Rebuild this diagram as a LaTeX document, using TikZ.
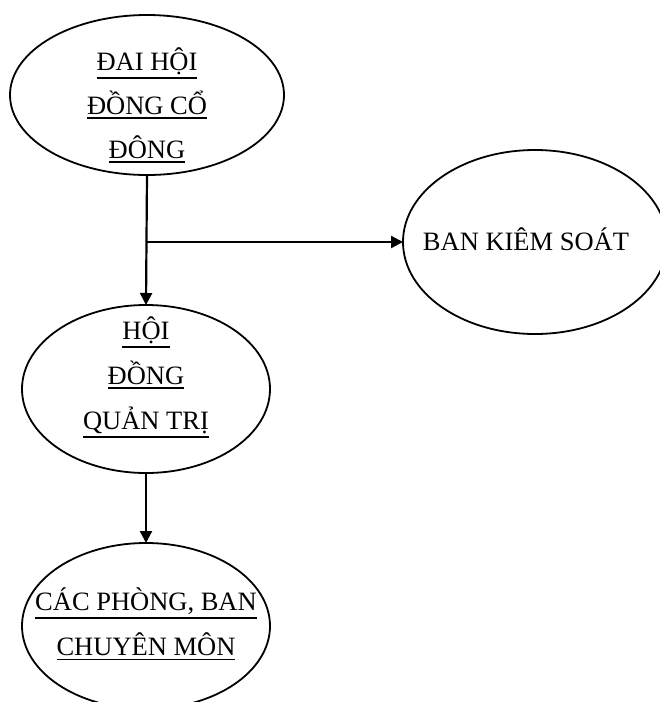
\documentclass[tikz,border=0pt]{standalone}
\usepackage{fontspec}
\setmainfont{Liberation Serif}
\usetikzlibrary{shapes.geometric,arrows.meta}

% underlined line of text with a slightly heavier rule
\newcommand{\ul}[1]{\vtop{\hbox{#1}\kern2.6pt\hrule height 1.6pt}}

\tikzset{
  oval/.style={ellipse, draw, line width=1.8pt, inner sep=0pt, outer sep=0pt},
  label txt/.style={align=center, inner sep=0pt,
    font=\fontsize{26.5pt}{44pt}\selectfont},
  link/.style={line width=2.2pt, -{Triangle[length=12pt,width=12pt]}}
}

\begin{document}
\begin{tikzpicture}[x=1pt,y=-1pt]
  \useasboundingbox (0,0) rectangle (660,702);

  % ovals
  \node[oval, minimum width=274pt, minimum height=160pt] (dhcd) at (147,95) {};
  \node[oval, minimum width=264pt, minimum height=184pt] (bks) at (535,242) {};
  \node[oval, minimum width=248pt, minimum height=168pt] (hdqt) at (146,389) {};
  \node[oval, minimum width=248pt, minimum height=166pt] (cpb) at (146,626) {};

  % texts
  \node[label txt] at ([yshift=-10pt]dhcd.center)
    {\ul{ĐAI HỘI}\\\ul{ĐỒNG CỔ}\\\ul{ĐÔNG}};
  \node[label txt, anchor=base] at ([xshift=-9pt,yshift=-8pt]bks.center)
    {BAN KIÊM SOÁT};
  \node[label txt, font=\fontsize{26.5pt}{45pt}\selectfont]
    at ([yshift=12pt]hdqt.center)
    {\ul{HỘI}\\\ul{ĐỒNG}\\\ul{QUẢN TRỊ}};
  \node[label txt, font=\fontsize{26.5pt}{45pt}\selectfont]
    at ([yshift=2pt]cpb.center)
    {\ul{CÁC PHÒNG, BAN}\\\ul{CHUYÊN MÔN}};

  % connectors
  \coordinate (fork) at (dhcd.south |- bks.west);
  \draw[link] (dhcd.south) -- (hdqt.north);
  \draw[link] (fork) -- (bks.west);
  \draw[link] (hdqt.south) -- (cpb.north);
\end{tikzpicture}
\end{document}
